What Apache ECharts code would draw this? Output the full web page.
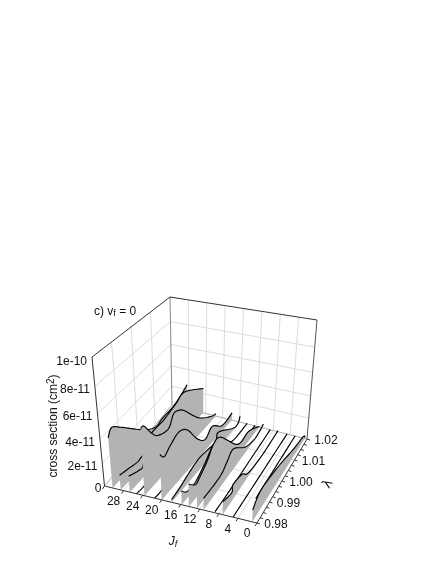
<!DOCTYPE html>
<html>
<head>
<meta charset="utf-8">
<style>
  html, body { margin: 0; background: #fff; }
  #chart { width: 436px; height: 564px; }
</style>
</head>
<body>
<div id="chart"></div>
<script src="https://cdn.jsdelivr.net/npm/echarts@6/dist/echarts.min.js"></script>
<script>
// tick values / labels
const jTicks = [0, 4, 8, 12, 16, 20, 24, 28];
const jGrid = [0, 4, 8, 12, 16, 20, 24, 28, 32];
const lamTicks = [0.98, 0.99, 1.00, 1.01, 1.02];
const lamLabels = ['0.98', '0.99', '1.00', '1.01', '1.02'];
const sigmaTicks = [0, 2, 4, 6, 8, 10];
const sigmaLabels = ['0', '2e-11', '4e-11', '6e-11', '8e-11', '1e-10'];

// one row per slice, drawn back to front. J at the low and at the high end of lambda
const sliceJStart = [30.3, 28.6, 26.7, 25.3, 23.6, 21.5, 20, 17.9, 15.8, 14.3, 12.6, 11.2, 8.8, 7.2, 5, 3, 1];
const sliceJEnd = [28.4, 26.5, 24.6, 23, 21.6, 19.5, 17.8, 15.9, 14.2, 12.3, 11.3, 10.4, 8.7, 6.9, 4.7, 2.8, 0.5];
const sliceLam = [
  [0.98, 0.982, 0.9864, 0.996, 1.0028, 1.0072, 1.0124, 1.0162, 1.02],
  [0.98, 0.9848, 0.9892, 0.992, 0.998],
  [0.98, 0.9856, 0.9876, 0.9908, 0.9992, 1.0056, 1.01, 1.02],
  [0.98, 0.9848, 0.992, 1.004, 1.016],
  [0.98, 0.9816, 0.9851, 0.9884, 0.994, 0.9968, 0.9996, 1.0026, 1.01, 1.0168, 1.02],
  [0.98, 0.984, 0.992, 1.004],
  [0.98, 0.9823, 0.9856, 0.9903, 0.9948, 1, 1.0046, 1.0086, 1.0143, 1.02],
  [0.98, 0.9847, 0.9952, 1.0052, 1.0072, 1.0172, 1.02],
  [0.98, 0.9831, 0.988, 0.9942, 1.0004, 1.0084, 1.0126, 1.02],
  [0.98, 0.9854, 0.9908, 0.9944, 0.9976, 1.0091, 1.02],
  [0.98, 0.9864, 0.9904, 0.9948, 1.0058, 1.0128, 1.02],
  [0.98, 0.9908, 0.9956, 0.9996, 1.0076, 1.0132, 1.0166, 1.02],
  [0.98, 0.992, 1.004, 1.02],
  [0.98, 0.9864, 0.9872, 0.9938, 0.9982, 1.0084, 1.02],
  [0.98, 0.996, 1.004, 1.02],
  [0.99, 1, 1.01, 1.02],
  [0.98, 0.986, 0.9988, 1.0108, 1.0184, 1.02]
];
// cross section, in units of 1e-11 cm2
const sliceVal = [
  [4.26, 4.8, 4.2, 2.5, 1.5, 1.65, 1.7, 2.0, 2.5],
  [1.3, 1.1, 0.9, 1, 1],
  [1.4, 1, 1.1, 2.9, 3.2, 3.6, 3.9, 2.5],
  [0, 0, 0.6, 0.8, 0.1],
  [5.5, 5.5, 4.5, 3.8, 3.5, 4.3, 4.2, 3.7, 1.8, 0.6, 0.25],
  [0, 0, 0.5, 0.4],
  [3.8, 3.3, 3.7, 4.1, 3.6, 2.0, 1.1, 1.6, 0.6, 0.75],
  [0.25, 0.45, 1.1, 0.9, 1.5, 0.06, 0.6],
  [1.2, 0.6, 0.5, 1.2, 2, 0.5, 0.06, 0.06],
  [1.9, 1.1, 2, 2.7, 2.8, 0.25, 0.06],
  [2.1, 2.9, 3.7, 3.6, 1.1, 1, 0.06],
  [1, 1, 1.5, 1.9, 0.6, 0.12, 0.12, 0.4],
  [0.1, 0.02, 0.02, 0.02],
  [1.1, 0.75, 1.3, 1.05, 0.35, 0.02, 0.1],
  [0.03, 0.03, 0.03, 0.03],
  [0.03, 0.03, 0.03, 0.03],
  [1, 1.65, 1.4, 0.8, 0.5, 0.1]
];

// the box in page pixels: [x, y] of the eight corners
const floorFL = [104.5, 486], floorFR = [257, 523], floorBR = [307, 439], floorBL = [172, 405];
const topFL = [92, 357], topFR = [263, 385], topBR = [317, 320], topBL = [170, 297];

function mix(a, b, t) { return [a[0] + (b[0] - a[0]) * t, a[1] + (b[1] - a[1]) * t]; }

// J, lambda, sigma (1e-11) -> x, y of the hidden pixel axes
function project(j, lam, sig) {
  const s = j / 32, t = (lam - 0.98) / 0.04;
  const w0 = sig / 10;
  const w = w0 * 0.85 / (1 - w0 + w0 * 0.85);
  const low = mix(mix(floorFR, floorFL, s), mix(floorBR, floorBL, s), t);
  const high = mix(mix(topFR, topFL, s), mix(topBR, topBL, s), t);
  return mix(low, high, w);
}

// rounded curve through the read points
function smoothPts(pts) {
  const out = [];
  for (let i = 0; i < pts.length - 1; i++) {
    const p0 = pts[Math.max(i - 1, 0)], p1 = pts[i], p2 = pts[i + 1], p3 = pts[Math.min(i + 2, pts.length - 1)];
    for (let k = 0; k < 8; k++) {
      const u = k / 8, u2 = u * u, u3 = u2 * u;
      out.push([0, 1].map(d => 0.5 * (2 * p1[d] + (p2[d] - p0[d]) * u +
        (2 * p0[d] - 5 * p1[d] + 4 * p2[d] - p3[d]) * u2 +
        (3 * p1[d] - p0[d] - 3 * p2[d] + p3[d]) * u3)));
    }
  }
  out.push(pts[pts.length - 1]);
  return out;
}

const FONT = '12px "Liberation Sans", Arial, sans-serif';

function lineEl(api, a, b, color, width) {
  const p = api.coord(a), q = api.coord(b);
  return {
    type: 'line',
    shape: { x1: p[0], y1: p[1], x2: q[0], y2: q[1] },
    style: { stroke: color, lineWidth: width }
  };
}

function textEl(api, pos, text, extra) {
  const p = api.coord(pos);
  return Object.assign({
    type: 'text', x: p[0], y: p[1],
    style: Object.assign({ text: text, font: FONT, fill: '#111', align: 'center', verticalAlign: 'middle' }, extra || {})
  });
}

function renderGrid(params, api) {
  const kids = [];
  const gridColor = '#dcdcdc';
  sigmaTicks.slice(1, 5).forEach(v => {
    kids.push(lineEl(api, project(32, 0.98, v), project(32, 1.02, v), gridColor, 1));
    kids.push(lineEl(api, project(32, 1.02, v), project(0, 1.02, v), gridColor, 1));
  });
  jGrid.slice(1, 8).forEach(j => {
    kids.push(lineEl(api, project(j, 1.02, 0), project(j, 1.02, 10), gridColor, 1));
    kids.push(lineEl(api, project(j, 0.98, 0), project(j, 1.02, 0), gridColor, 1));
  });
  lamTicks.slice(1, 4).forEach(l => {
    kids.push(lineEl(api, project(32, l, 0), project(32, l, 10), gridColor, 1));
    kids.push(lineEl(api, project(32, l, 0), project(0, l, 0), gridColor, 1));
  });
  kids.push(lineEl(api, project(32, 1.02, 0), project(32, 1.02, 10), '#888', 1));
  kids.push(lineEl(api, project(32, 1.02, 0), project(0, 1.02, 0), '#aaa', 1));
  kids.push(lineEl(api, project(32, 0.98, 0), project(32, 1.02, 0), '#aaa', 1));
  return { type: 'group', children: kids };
}

function renderSlice(params, api) {
  const i = params.dataIndex;
  const lam = sliceLam[i], val = sliceVal[i];
  const jAt = l => sliceJStart[i] + (sliceJEnd[i] - sliceJStart[i]) * (l - 0.98) / 0.04;
  const curve = smoothPts(lam.map((l, k) => project(jAt(l), l, val[k])));
  const first = lam[0], last = lam[lam.length - 1];
  const top = curve.map(p => api.coord(p));
  const base = [project(jAt(last), last, 0), project(jAt(first), first, 0)].map(p => api.coord(p));
  return {
    type: 'group',
    children: [
      { type: 'polygon', shape: { points: top.concat(base) }, style: { fill: '#b3b3b3' } },
      { type: 'polyline', shape: { points: top }, style: { stroke: '#000', lineWidth: 1.15, fill: null } }
    ]
  };
}

function renderFrame(params, api) {
  const kids = [];
  const dark = '#333';
  kids.push(lineEl(api, floorFL, topFL, dark, 1));
  kids.push(lineEl(api, topFL, topBL, dark, 1));
  kids.push(lineEl(api, topBL, topBR, dark, 1));
  kids.push(lineEl(api, topBR, floorBR, '#555', 1));
  kids.push(lineEl(api, floorFL, floorFR, dark, 1));
  kids.push(lineEl(api, floorFR, floorBR, dark, 1));

  jGrid.forEach(j => {
    const p = project(j, 0.98, 0);
    kids.push(lineEl(api, p, [p[0] - 2, p[1] + 3], dark, 1));
  });
  for (let n = 0; n <= 16; n++) {
    const p = project(0, 0.98 + 0.0025 * n, 0);
    kids.push(lineEl(api, p, [p[0] + 3, p[1] + 1], dark, 1));
  }

  sigmaTicks.forEach((v, k) => {
    const p = project(32, 0.98, v);
    kids.push(textEl(api, [p[0] - (v === 0 ? 3 : 5), p[1] + (v === 10 ? 5 : 3)], sigmaLabels[k], { align: 'right' }));
  });
  jTicks.forEach(j => {
    const p = project(j, 0.98, 0);
    kids.push(textEl(api, [p[0] - 10, p[1] + 11], String(j)));
  });
  lamTicks.forEach((l, k) => {
    const p = project(0, l, 0);
    kids.push(textEl(api, [p[0] + 19, p[1] + 2], lamLabels[k]));
  });

  kids.push(textEl(api, [54, 426], '{a|cross section (cm}{s|2}{a|)}', {
    rich: { a: { font: FONT, fill: '#111' }, s: { font: '10px "Liberation Sans", Arial, sans-serif', fill: '#111', padding: [0, 0, 6, 0] } }
  }));
  kids[kids.length - 1].rotation = Math.PI / 2;
  kids.push(textEl(api, [173, 542], '{j|J}{f|f}', {
    rich: {
      j: { font: 'italic 12px "Liberation Sans", Arial, sans-serif', fill: '#111' },
      f: { font: 'italic 9px "Liberation Sans", Arial, sans-serif', fill: '#111', padding: [4, 0, 0, 0] }
    }
  }));
  kids.push(textEl(api, [328, 484], 'λ', { font: '13px "DejaVu Sans", sans-serif' }));
  kids[kids.length - 1].rotation = Math.PI / 3;
  kids.push(textEl(api, [94, 312], '{a|c) v}{f|f}{a| = 0}', {
    align: 'left',
    rich: {
      a: { font: FONT, fill: '#111' },
      f: { font: '9px "Liberation Sans", Arial, sans-serif', fill: '#111', padding: [4, 0, 0, 0] }
    }
  }));
  return { type: 'group', children: kids };
}

const chart = echarts.init(document.getElementById('chart'), null, { renderer: 'canvas' });
chart.setOption({
  animation: false,
  backgroundColor: '#fff',
  grid: { left: 0, right: 0, top: 0, bottom: 0 },
  xAxis: { type: 'value', min: 0, max: 436, show: false },
  yAxis: { type: 'value', min: 0, max: 564, inverse: true, show: false },
  series: [
    { type: 'custom', clip: false, silent: true, z: 1, data: [[0, 0]], renderItem: renderGrid },
    { type: 'custom', clip: false, silent: true, z: 2, data: sliceJStart.map((j, i) => [j, i]), renderItem: renderSlice },
    { type: 'custom', clip: false, silent: true, z: 3, data: [[0, 0]], renderItem: renderFrame }
  ]
});
</script>
</body>
</html>
